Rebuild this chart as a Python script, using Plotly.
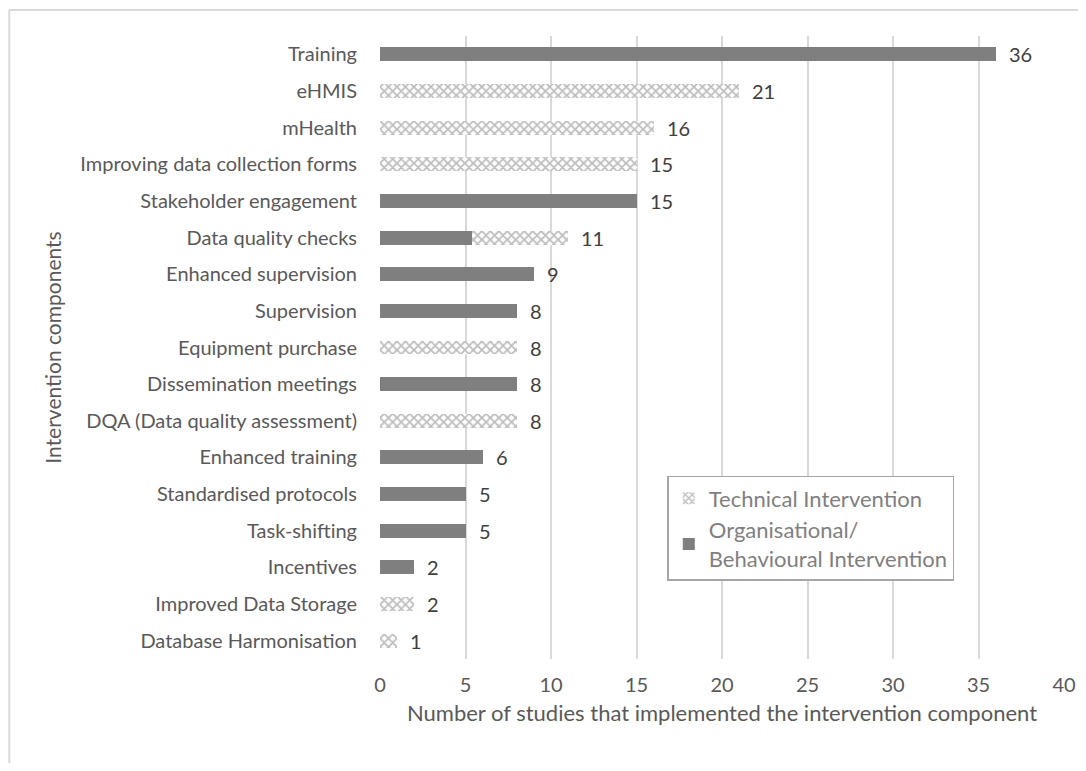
import plotly.graph_objects as go

categories = [
    "Training", "eHMIS", "mHealth", "Improving data collection forms",
    "Stakeholder engagement", "Data quality checks", "Enhanced supervision",
    "Supervision", "Equipment purchase", "Dissemination meetings",
    "DQA (Data quality assessment)", "Enhanced training", "Standardised protocols",
    "Task-shifting", "Incentives", "Improved Data Storage", "Database Harmonisation",
]
organisational = [36, 0, 0, 0, 15, 5.4, 9, 8, 0, 8, 0, 6, 5, 5, 2, 0, 0]
technical = [0, 21, 16, 15, 0, 5.6, 0, 0, 8, 0, 8, 0, 0, 0, 0, 2, 1]
totals = [36, 21, 16, 15, 15, 11, 9, 8, 8, 8, 8, 6, 5, 5, 2, 2, 1]
x_ticks = [0, 5, 10, 15, 20, 25, 30, 35, 40]

FONT = "Lato"
TXT = "#595959"

fig = go.Figure()
fig.add_trace(go.Bar(
    y=categories, x=organisational, orientation="h",
    name="Organisational/<br>Behavioural Intervention",
    marker=dict(color="#7f7f7f", line=dict(width=0)),
))
fig.add_trace(go.Bar(
    y=categories, x=technical, orientation="h",
    name="Technical Intervention",
    marker=dict(color="white", line=dict(width=0),
                pattern=dict(shape="x", fgcolor="#7a7a7a", bgcolor="white",
                             size=6, solidity=0.5)),
))

for c, t in zip(categories, totals):
    fig.add_annotation(x=t, y=c, text=str(t), showarrow=False, xanchor="left",
                       xshift=11, font=dict(family=FONT, size=20, color="#404040"))

# outer chart border
fig.add_shape(type="line", xref="paper", yref="paper", x0=-0.542, x1=1.03,
              y0=1.0417, y1=1.0417, line=dict(color="#d9d9d9", width=2))
fig.add_shape(type="line", xref="paper", yref="paper", x0=-0.542, x1=-0.542,
              y0=1.0417, y1=-0.2, line=dict(color="#d9d9d9", width=2))

fig.update_layout(
    width=1070, height=755,
    margin=dict(l=372, r=14, t=28, b=104),
    paper_bgcolor="white", plot_bgcolor="white",
    barmode="stack", bargap=0.62,
    font=dict(family=FONT, size=20, color=TXT),
    showlegend=True,
    legend=dict(x=0.42, y=0.294, xanchor="left", yanchor="top",
                traceorder="reversed", bordercolor="#a6a6a6", borderwidth=1.5,
                bgcolor="white", font=dict(family=FONT, size=22, color="#7f7f7f"),
                itemsizing="constant"),
    xaxis=dict(range=[0, 40], tickvals=x_ticks, showgrid=True,
               gridcolor="#d9d9d9", gridwidth=1.5, zeroline=False,
               showline=False, ticks="", ticklabelstandoff=12,
               ticklabeloverflow="allow", automargin=False,
               tickfont=dict(family=FONT, size=20, color=TXT),
               title=dict(text="Number of studies that implemented the intervention component",
                          font=dict(family=FONT, size=22, color=TXT), standoff=10)),
    yaxis=dict(categoryorder="array", categoryarray=categories, autorange="reversed",
               showgrid=False, zeroline=False, showline=False, ticks="",
               ticklabelstandoff=22,
               tickfont=dict(family=FONT, size=20, color=TXT),
               title=dict(text="Intervention components",
                          font=dict(family=FONT, size=21, color=TXT), standoff=12)),
)

fig.write_html("out.html")
